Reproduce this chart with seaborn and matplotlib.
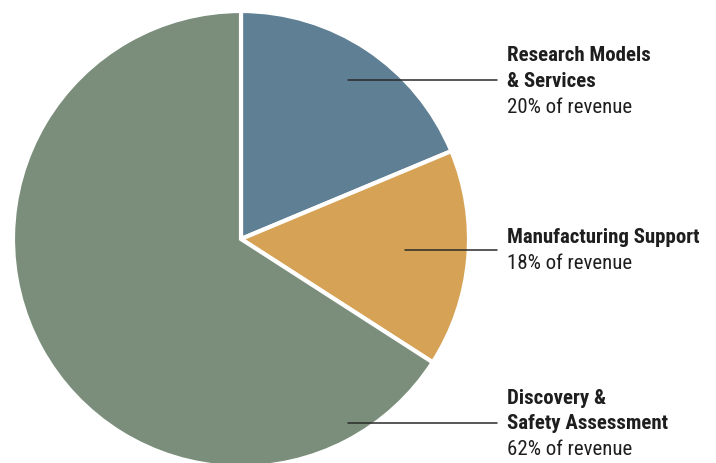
import matplotlib
matplotlib.use("Agg")
import matplotlib.pyplot as plt
import seaborn as sns

# Revenue split by segment
segments = ['Research Models\n& Services', 'Manufacturing Support', 'Discovery &\nSafety Assessment']
label_pct = [20, 18, 62]
# wedge sizes as drawn in the picture (the drawing doesn't follow the labels exactly)
wedge_sizes = [18.7, 15.4, 65.9]
colors = ['#5f7f95', '#d5a256', '#7a8e7b']

sns.set_theme(style='white')
plt.rcParams['font.family'] = ['Liberation Sans Narrow', 'DejaVu Sans Condensed',
                               'Roboto Condensed', 'DejaVu Sans']

fig = plt.figure(figsize=(7.16, 4.64), dpi=100)
# pie centre at (241, 240) px, radius 228 px
ax = fig.add_axes([(241 - 228) / 716, (224 - 228) / 464, 456 / 716, 456 / 464])
ax.pie(wedge_sizes, colors=colors, startangle=90, counterclock=False, radius=1,
       wedgeprops={'edgecolor': 'white', 'linewidth': 3})
ax.set_xlim(-1, 1)
ax.set_ylim(-1, 1)
ax.set_aspect('equal')
ax.axis('off')

# leader lines: (start x, y) in data units, all end at the same x
leaders = [(0.469, 0.697), (0.719, -0.048), (0.469, -0.807)]
line_end = 1.123
text_x = 1.167
step = 0.114

for label, pct, (x0, y0) in zip(segments, label_pct, leaders):
    ax.plot([x0, line_end], [y0, y0], color='#2a2a2a', lw=1.1, clip_on=False)
    lines = label.split('\n')
    if len(lines) == 2:
        ys = [y0 + step, y0, y0 - step]
    else:
        ys = [y0 + step / 2, y0 - step / 2]
    for txt, y in zip(lines, ys):
        ax.text(text_x, y, txt, fontsize=15, fontweight='bold', color='#1e1e1e',
                va='center', ha='left', clip_on=False)
    ax.text(text_x, ys[-1], f'{pct}% of revenue', fontsize=15, color='#1e1e1e',
            va='center', ha='left', clip_on=False)

fig.savefig('out.png', dpi=100)
